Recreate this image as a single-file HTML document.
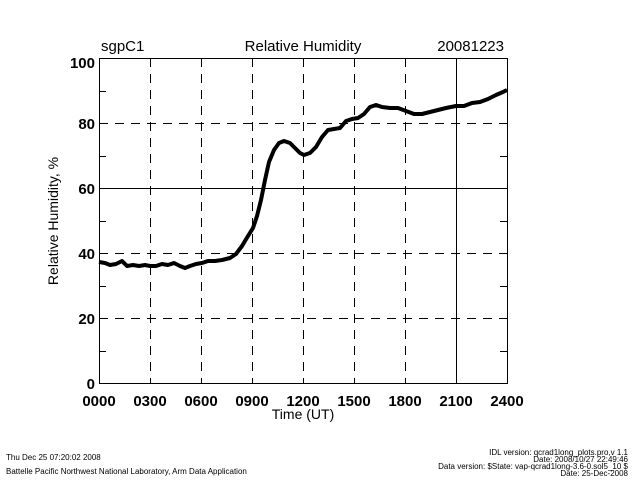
<!DOCTYPE html>
<html><head><meta charset="utf-8"><style>
html,body{margin:0;padding:0;background:#fff;}
svg{display:block;font-family:"Liberation Sans",sans-serif;}
</style></head><body>
<svg width="640" height="480" viewBox="0 0 640 480">
<rect width="640" height="480" fill="#fff"/>
<g stroke="#000" stroke-width="1" fill="none">
<rect x="99.5" y="58.5" width="408" height="325"/>
<g stroke-dasharray="9,7">
<line x1="150.5" y1="58" x2="150.5" y2="383"/>
<line x1="201.5" y1="58" x2="201.5" y2="383"/>
<line x1="252.5" y1="58" x2="252.5" y2="383"/>
<line x1="303.5" y1="58" x2="303.5" y2="383"/>
<line x1="354.5" y1="58" x2="354.5" y2="383"/>
<line x1="405.5" y1="58" x2="405.5" y2="383"/>
<line x1="99" y1="318.5" x2="507" y2="318.5"/>
<line x1="99" y1="253.5" x2="507" y2="253.5"/>
<line x1="99" y1="123.5" x2="507" y2="123.5"/>
</g>
<line x1="456.5" y1="58" x2="456.5" y2="383"/>
<line x1="99" y1="188.5" x2="507" y2="188.5"/>
<path d="M99 91.5h7M99 123.5h7M99 156.5h7M99 188.5h7M99 221.5h7M99 253.5h7M99 286.5h7M99 318.5h7M99 351.5h7M507 91.5h-7M507 123.5h-7M507 156.5h-7M507 188.5h-7M507 221.5h-7M507 253.5h-7M507 286.5h-7M507 318.5h-7M507 351.5h-7"/>
</g>
<polyline fill="none" stroke="#000" stroke-width="4" stroke-linejoin="round" points="99,262 105,263 110,265 116,264 122,261 127,266 133,265 139,266 145,265 150,266 156,266 162,264 168,265 174,263 180,266 185,268 190,266 196,264 202,263 208,261 215,261 222,260 230,258 236,254 242,246 248,236 253,228 257,216 261,200 265,180 269,162 274,150 279,143 284,141 290,143 295,148 300,153 304,155 310,153 316,147 322,137 328,130 334,129 340,128 346,121 352,119 358,118 364,114 370,107 376,105 382,107 390,108 398,108 406,111 414,114 422,114 430,112 438,110 446,108 456,106 464,106 472,103 480,102 488,99 496,95 503,92 507,90"/>
<g font-size="15" fill="#000">
<text x="101" y="51">sgpC1</text>
<text x="303" y="51" text-anchor="middle">Relative Humidity</text>
<text x="504" y="51" text-anchor="end">20081223</text>
</g>
<g font-size="15" font-weight="bold" fill="#000" text-anchor="end">
<text x="95" y="68">100</text>
<text x="95" y="129">80</text>
<text x="95" y="194">60</text>
<text x="95" y="259">40</text>
<text x="95" y="324">20</text>
<text x="95" y="389">0</text>
</g>
<g font-size="15" font-weight="bold" fill="#000" text-anchor="middle">
<text x="99" y="406">0000</text><text x="150" y="406">0300</text><text x="201" y="406">0600</text>
<text x="252" y="406">0900</text><text x="303" y="406">1200</text><text x="354" y="406">1500</text>
<text x="405" y="406">1800</text><text x="456" y="406">2100</text><text x="507" y="406">2400</text>
</g>
<text x="303" y="419" font-size="14" text-anchor="middle">Time (UT)</text>
<text transform="translate(58,221) rotate(-90)" font-size="14" text-anchor="middle">Relative Humidity, %</text>
<g font-size="8" fill="#000">
<text x="6" y="460">Thu Dec 25 07:20:02 2008</text>
<text x="6" y="474">Battelle Pacific Northwest National Laboratory, Arm Data Application</text>
<g text-anchor="end">
<text x="628" y="455">IDL version: qcrad1long_plots.pro,v 1.1</text>
<text x="628" y="462">Date: 2008/10/27 22:49:46</text>
<text x="628" y="469">Data version: $State: vap-qcrad1long-3.6-0.sol5_10 $</text>
<text x="628" y="476">Date: 25-Dec-2008</text>
</g>
</g>
</svg>
</body></html>
